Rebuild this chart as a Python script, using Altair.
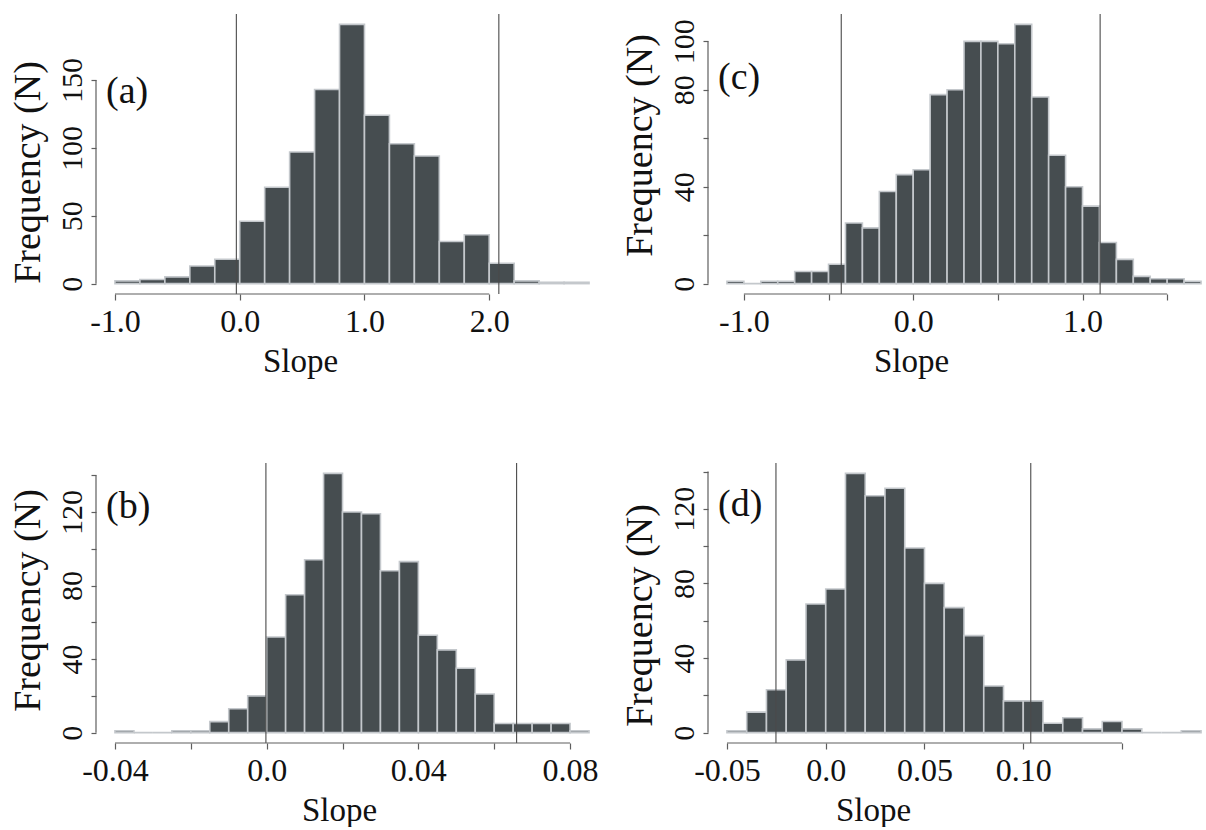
import json
import altair as alt
import pandas as pd

FONT = "Liberation Serif"
BAR_FILL = "#464d50"
BAR_EDGE = "#c4c8cc"
AXIS_GREY = "#5e5e5e"
VLINE = "#4a4a4a"

# ---------------- data ----------------
# panel (a)
a_start, a_width = -1.0, 0.2
a_counts = [2, 3, 5, 13, 18, 46, 71, 97, 143, 191, 124, 103, 94, 31, 36, 15, 2, 1, 1]
a_vlines = [-0.027, 2.077]
a_xticks = [-1.0, 0.0, 1.0, 2.0]
a_xlabels = ["-1.0", "0.0", "1.0", "2.0"]
a_yticks = [0, 50, 100, 150]
a_ylabels = ["0", "50", "100", "150"]

# panel (b)
b_start, b_width = -0.04, 0.005
b_counts = [1, 0, 0, 1, 1, 6, 13, 20, 52, 75, 94, 141, 120, 119, 88, 93, 53, 45, 35, 21, 5, 5, 5, 5, 1]
b_vlines = [-0.0002, 0.0659]
b_xticks = [-0.04, -0.02, 0.0, 0.02, 0.04, 0.06, 0.08]
b_xlabels = ["-0.04", "", "0.0", "", "0.04", "", "0.08"]
b_yticks = [0, 20, 40, 60, 80, 100, 120, 140]
b_ylabels = ["0", "", "40", "", "80", "", "120", ""]

# panel (c)
c_start, c_width = -1.1, 0.1
c_counts = [1, 0, 1, 1, 5, 5, 8, 25, 23, 38, 45, 47, 78, 80, 100, 100, 99, 107, 77, 53, 40, 32, 17, 10, 3, 2, 2, 1]
c_vlines = [-0.425, 1.104]
c_xticks = [-1.0, -0.5, 0.0, 0.5, 1.0, 1.5]
c_xlabels = ["-1.0", "", "0.0", "", "1.0", ""]
c_yticks = [0, 20, 40, 60, 80, 100]
c_ylabels = ["0", "", "40", "", "80", "100"]

# panel (d)
d_start, d_width = -0.05, 0.01
d_counts = [1, 11, 23, 39, 69, 77, 139, 127, 131, 99, 80, 67, 52, 25, 17, 17, 5, 8, 2, 6, 2, 0, 0, 1]
d_vlines = [-0.0252, 0.1038]
d_xticks = [-0.05, 0.0, 0.05, 0.10, 0.15]
d_xlabels = ["-0.05", "0.0", "0.05", "0.10", ""]
d_yticks = [0, 20, 40, 60, 80, 100, 120, 140]
d_ylabels = ["0", "", "40", "", "80", "", "120", ""]

FULL_W = 512
H = 280


def label_expr(values, labels):
    return f"{json.dumps(labels)}[indexof({json.dumps(values)}, datum.value)]"


def panel(letter, start, width, counts, vlines, xticks, xlabels, yticks, ylabels,
          vis_frac, slope_x, freq_y, letter_y):
    n = len(counts)
    lo = [round(start + i * width, 6) for i in range(n)]
    hi = [round(v + width, 6) for v in lo]
    bars_df = pd.DataFrame({"lo": lo, "hi": hi, "n": counts, "base": [0] * n})

    r = hi[-1] - lo[0]
    xlo, xhi = lo[0] - 0.04 * r, hi[-1] + 0.04 * r
    xhi_vis = xlo + (xhi - xlo) * vis_frac
    ymax = max(counts)
    ylo, yhi = -0.04 * ymax, 1.04 * ymax
    W = round(FULL_W * vis_frac)

    xs = alt.Scale(domain=[xlo, xhi_vis], nice=False, zero=False)
    ys = alt.Scale(domain=[ylo, yhi], nice=False, zero=False)

    xaxis = alt.Axis(
        values=xticks, labelExpr=label_expr(xticks, xlabels), domain=False, grid=False,
        tickSize=6, tickColor=AXIS_GREY, tickWidth=1.2,
        labelFont=FONT, labelFontSize=32, labelColor="#111111",
        labelBaseline="alphabetic", labelPadding=31, labelOverlap=False, labelFlush=False,
        title="Slope", titleFont=FONT, titleFontSize=33, titleFontWeight="normal",
        titleColor="#111111", titleX=slope_x, titleY=77, titleAlign="center",
        titleBaseline="alphabetic", titleAngle=0,
    )
    yaxis = alt.Axis(
        values=yticks, labelExpr=label_expr(yticks, ylabels), domain=False, grid=False,
        tickSize=5, tickColor=AXIS_GREY, tickWidth=1.2,
        labelFont=FONT, labelFontSize=30, labelColor="#111111", labelAngle=270,
        labelAlign="center", labelBaseline="alphabetic", labelPadding=10,
        labelOverlap=False, labelFlush=False,
        title="Frequency (N)", titleFont=FONT, titleFontSize=38, titleFontWeight="normal",
        titleColor="#111111", titleAngle=270, titleX=-57, titleY=freq_y,
        titleAlign="center", titleBaseline="alphabetic",
    )

    bars = alt.Chart(bars_df).mark_rect(
        fill=BAR_FILL, stroke=BAR_EDGE, strokeWidth=1.6
    ).encode(
        x=alt.X("lo:Q", scale=xs, axis=xaxis),
        x2="hi:Q",
        y=alt.Y("n:Q", scale=ys, axis=yaxis),
        y2="base:Q",
    )

    vl = alt.Chart(pd.DataFrame({"v": vlines})).mark_rule(
        color=VLINE, strokeWidth=1.1
    ).encode(x=alt.X("v:Q", scale=xs, axis=xaxis))

    yline = alt.Chart(pd.DataFrame({"x": [xlo], "y": [yticks[0]], "y2": [yticks[-1]]})).mark_rule(
        color=AXIS_GREY, strokeWidth=1.2
    ).encode(
        x=alt.X("x:Q", scale=xs, axis=xaxis),
        y=alt.Y("y:Q", scale=ys, axis=yaxis),
        y2="y2:Q",
    )
    xline = alt.Chart(pd.DataFrame({"y": [ylo], "x": [xticks[0]], "x2": [xticks[-1]]})).mark_rule(
        color=AXIS_GREY, strokeWidth=1.2
    ).encode(
        x=alt.X("x:Q", scale=xs, axis=xaxis),
        x2="x2:Q",
        y=alt.Y("y:Q", scale=ys, axis=yaxis),
    )

    tag = alt.Chart(pd.DataFrame({"t": [letter]})).mark_text(
        align="left", baseline="alphabetic", font=FONT, fontSize=38, color="#111111"
    ).encode(text="t:N", x=alt.value(10), y=alt.value(letter_y))

    return alt.layer(bars, vl, yline, xline, tag).properties(width=W, height=H)


A = panel("(a)", a_start, a_width, a_counts, a_vlines, a_xticks, a_xlabels, a_yticks, a_ylabels,
          1.0, 204, 158, 89)
B = panel("(b)", b_start, b_width, b_counts, b_vlines, b_xticks, b_xlabels, b_yticks, b_ylabels,
          1.0, 243, 137, 55)
C = panel("(c)", c_start, c_width, c_counts, c_vlines, c_xticks, c_xlabels, c_yticks, c_ylabels,
          497 / 512, 203, 131, 75)
D = panel("(d)", d_start, d_width, d_counts, d_vlines, d_xticks, d_xlabels, d_yticks, d_ylabels,
          497 / 512, 165, 152, 53)

chart = alt.concat(A, C, B, D, columns=2, spacing={"row": 169, "column": 100}, bounds="flush").properties(
    padding={"left": 8, "top": 13, "right": 0, "bottom": 0}, background="white"
).configure_view(strokeWidth=0, stroke="transparent")

chart.save("out.html", embed_options={"renderer": "svg", "actions": False})
